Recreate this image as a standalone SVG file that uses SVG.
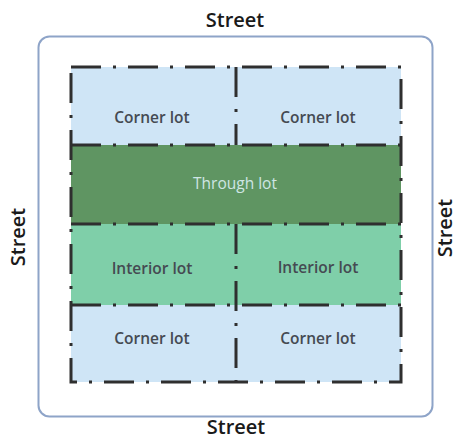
<svg xmlns="http://www.w3.org/2000/svg" width="458" height="440" viewBox="0 0 458 440">
  <style>
    .street { font-family: "Open Sans", "Noto Sans", sans-serif; font-size: 20px; font-weight: 600; fill: #1a1a1a; text-anchor: middle; }
    .lbl { font-family: "Open Sans", "Noto Sans", sans-serif; font-size: 15.5px; font-weight: 600; fill: #454a52; text-anchor: middle; }
    .lbl-light { fill: #cfe6e4; font-weight: 500; }
    .corner { fill: #cfe5f6; }
    .through { fill: #5f9562; }
    .interior { fill: #7fcfa9; }
    .lotline { fill: none; stroke: #2f2f2f; stroke-width: 3; stroke-dasharray: 30 12 3 12; }
  </style>

  <rect width="458" height="440" fill="#ffffff"/>

  <!-- block outline -->
  <rect id="block" x="38.5" y="36.5" width="394" height="380" rx="11" fill="#ffffff" stroke="#8ea4c8" stroke-width="2"/>

  <!-- street names -->
  <text class="street" x="235" y="27">Street</text>
  <text class="street" x="236" y="434">Street</text>
  <text class="street" transform="translate(25,237) rotate(-90)">Street</text>
  <text class="street" transform="translate(452,228) rotate(-90)">Street</text>

  <g id="corner-nw">
    <rect class="corner" x="71" y="67" width="165" height="78"/>
    <text class="lbl" x="152" y="123">Corner lot</text>
  </g>
  <g id="corner-ne">
    <rect class="corner" x="236" y="67" width="165" height="78"/>
    <text class="lbl" x="318" y="123">Corner lot</text>
  </g>
  <g id="through">
    <rect class="through" x="71" y="145" width="330" height="79"/>
    <text class="lbl lbl-light" x="235" y="189">Through lot</text>
  </g>
  <g id="interior-w">
    <rect class="interior" x="71" y="224" width="165" height="81"/>
    <text class="lbl" x="152" y="274">Interior lot</text>
  </g>
  <g id="interior-e">
    <rect class="interior" x="236" y="224" width="165" height="81"/>
    <text class="lbl" x="318" y="273">Interior lot</text>
  </g>
  <g id="corner-sw">
    <rect class="corner" x="71" y="305" width="165" height="77"/>
    <text class="lbl" x="152" y="344">Corner lot</text>
  </g>
  <g id="corner-se">
    <rect class="corner" x="236" y="305" width="165" height="77"/>
    <text class="lbl" x="318" y="344">Corner lot</text>
  </g>

  <!-- lot lines -->
  <g id="lot-lines">
    <rect class="lotline" x="71" y="67" width="330" height="315"/>
    <line class="lotline" x1="71" y1="145" x2="401" y2="145"/>
    <line class="lotline" x1="71" y1="224" x2="401" y2="224"/>
    <line class="lotline" x1="71" y1="305" x2="401" y2="305"/>
    <line class="lotline" x1="236" y1="67" x2="236" y2="145"/>
    <line class="lotline" x1="236" y1="224" x2="236" y2="382"/>
  </g>
</svg>
